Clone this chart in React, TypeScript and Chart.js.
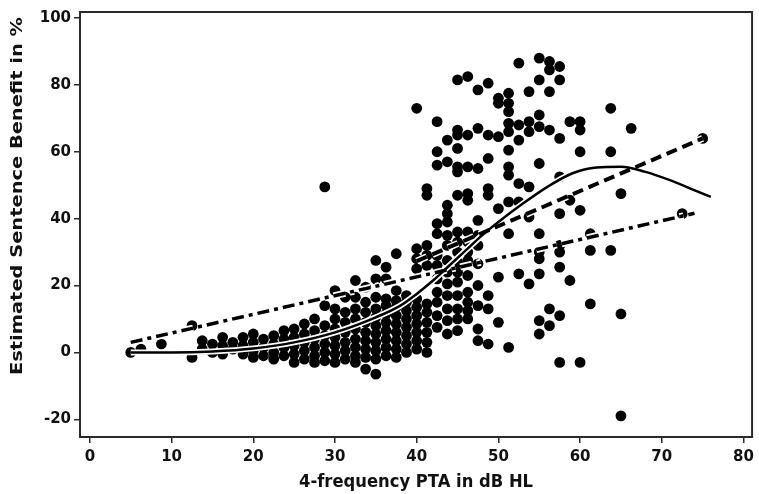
import React, { useEffect, useRef } from "react";
import { Chart, registerables } from "chart.js";

Chart.register(...registerables);

const xTickValues = [0, 10, 20, 30, 40, 50, 60, 70, 80];
const yTickValues = [-20, 0, 20, 40, 60, 80, 100];
const xTitle = "4-frequency PTA in dB HL";
const yTitle = "Estimated Sentence Benefit in %";

// observed (PTA, benefit) pairs
const observations: [number, number][] = [
  [5, 0], [6.25, 1], [8.75, 2.5], [12.5, -1.5], [12.5, 8],
  [13.75, 1], [13.75, 3.5], [15, 0], [15, 2.5],
  [16.25, -0.5], [16.25, 2], [16.25, 4.5], [17.5, 1], [17.5, 3],
  [18.75, -0.5], [18.75, 2], [18.75, 4.5],
  [20, -1.5], [20, 0.5], [20, 3], [20, 5.5],
  [21.25, -1], [21.25, 1.5], [21.25, 4],
  [22.5, -2], [22.5, 0], [22.5, 2.5], [22.5, 5],
  [23.75, -1], [23.75, 1.5], [23.75, 4], [23.75, 6.5],
  [25, -3], [25, -0.5], [25, 2], [25, 4.5], [25, 7],
  [26.25, -2], [26.25, 0.5], [26.25, 3], [26.25, 5.5], [26.25, 8.5],
  [27.5, -3], [27.5, -1], [27.5, 1.5], [27.5, 4], [27.5, 6.5], [27.5, 10],
  [28.75, -2.5], [28.75, 0], [28.75, 2.5], [28.75, 5], [28.75, 8], [28.75, 14], [28.75, 49.5],
  [30, -3], [30, -0.5], [30, 2], [30, 4.5], [30, 7], [30, 10], [30, 13], [30, 18.5],
  [31.25, -2], [31.25, 0.5], [31.25, 3], [31.25, 6], [31.25, 9], [31.25, 12], [31.25, 16.5],
  [32.5, -3], [32.5, -1], [32.5, 1.5], [32.5, 4], [32.5, 7], [32.5, 10], [32.5, 13], [32.5, 16.5], [32.5, 21.5],
  [33.75, -5], [33.75, -1.5], [33.75, 1], [33.75, 3.5], [33.75, 6], [33.75, 9], [33.75, 12], [33.75, 15], [33.75, 19.5],
  [35, -6.5], [35, -2], [35, 0.5], [35, 3], [35, 5.5], [35, 8], [35, 10.5], [35, 13], [35, 16.5], [35, 22], [35, 27.5],
  [36.25, -1], [36.25, 1.5], [36.25, 4], [36.25, 6.5], [36.25, 9], [36.25, 11.5], [36.25, 14], [36.25, 16], [36.25, 22], [36.25, 25.5],
  [37.5, -1.5], [37.5, 1], [37.5, 3.5], [37.5, 6], [37.5, 8.5], [37.5, 11], [37.5, 13.5], [37.5, 15.5], [37.5, 18.5], [37.5, 29.5],
  [38.75, 0], [38.75, 2.5], [38.75, 5], [38.75, 7.5], [38.75, 10], [38.75, 12.5], [38.75, 15], [38.75, 17],
  [40, 1], [40, 3.5], [40, 6], [40, 8.5], [40, 11], [40, 13.5], [40, 16], [40, 25], [40, 28], [40, 31], [40, 73],
  [41.25, 0], [41.25, 3], [41.25, 6], [41.25, 9], [41.25, 12], [41.25, 14.5], [41.25, 26], [41.25, 29], [41.25, 32], [41.25, 47], [41.25, 49],
  [42.5, 7.5], [42.5, 11], [42.5, 15], [42.5, 18], [42.5, 22], [42.5, 26], [42.5, 29], [42.5, 35.5], [42.5, 38.5], [42.5, 56], [42.5, 60], [42.5, 69],
  [43.75, 5.5], [43.75, 9.5], [43.75, 13], [43.75, 17], [43.75, 20.5], [43.75, 24], [43.75, 27.5], [43.75, 32], [43.75, 35], [43.75, 39], [43.75, 41.5], [43.75, 44], [43.75, 57], [43.75, 63.5],
  [45, 6.5], [45, 10], [45, 13], [45, 17], [45, 21], [45, 24], [45, 27], [45, 30], [45, 33], [45, 36], [45, 47], [45, 54], [45, 55.5], [45, 61], [45, 65], [45, 66.5], [45, 81.5],
  [46.25, 10], [46.25, 12.5], [46.25, 15], [46.25, 18], [46.25, 23], [46.25, 27.5], [46.25, 30], [46.25, 33], [46.25, 36], [46.25, 45.5], [46.25, 47.5], [46.25, 55.5], [46.25, 65], [46.25, 82.5],
  [47.5, 3.5], [47.5, 7], [47.5, 14], [47.5, 20], [47.5, 26.5], [47.5, 32], [47.5, 35], [47.5, 39.5], [47.5, 55], [47.5, 67], [47.5, 78.5],
  [48.75, 2.5], [48.75, 13], [48.75, 17], [48.75, 47], [48.75, 49], [48.75, 58], [48.75, 65], [48.75, 80.5],
  [50, 9], [50, 22.5], [50, 43], [50, 64.5], [50, 74.5], [50, 76],
  [51.25, 1.5], [51.25, 35.5], [51.25, 45], [51.25, 53], [51.25, 55.5], [51.25, 60.5], [51.25, 66], [51.25, 68.5], [51.25, 72], [51.25, 74.5], [51.25, 77.5],
  [52.5, 23.5], [52.5, 45], [52.5, 50.5], [52.5, 63.5], [52.5, 68], [52.5, 86.5],
  [53.75, 20.5], [53.75, 40.5], [53.75, 49.5], [53.75, 66], [53.75, 69], [53.75, 78],
  [55, 5.5], [55, 9.5], [55, 23.5], [55, 28], [55, 30], [55, 35.5], [55, 56.5], [55, 67.5], [55, 71], [55, 81.5], [55, 88],
  [56.25, 8], [56.25, 13], [56.25, 66.5], [56.25, 78], [56.25, 84.5], [56.25, 87],
  [57.5, -3], [57.5, 11], [57.5, 25.5], [57.5, 30], [57.5, 32], [57.5, 41.5], [57.5, 52.5], [57.5, 64], [57.5, 81.5], [57.5, 85.5],
  [58.75, 21.5], [58.75, 45.5], [58.75, 69],
  [60, -3], [60, 42.5], [60, 60], [60, 66.5], [60, 69],
  [61.25, 14.5], [61.25, 30.5], [61.25, 35.5],
  [63.75, 30.5], [63.75, 60], [63.75, 73],
  [65, -19], [65, 11.5], [65, 47.5],
  [66.25, 67],
  [72.5, 41.5],
  [75, 64],
];

// smooth (loess-like) fit, solid
const loessFit: [number, number][] = [
  [5, 0], [10, 0], [15, 0.3], [20, 1.2], [25, 3], [30, 6], [35, 10.5], [38, 14],
  [40, 17.5], [42, 21.5], [44, 26], [46, 30.5], [48, 35], [50, 39], [53, 44.5],
  [56, 49.5], [59, 53.5], [62, 55.3], [65, 55.5], [68, 54], [71, 51.5], [73.5, 49], [76, 46.5],
];

// steep linear fit over the upper PTA range, dashed
const steepFit: [number, number][] = [[40, 27.3], [75, 64]];

// linear fit over the full range, dash-dot
const linearFit: [number, number][] = [[5, 3], [74, 41.6]];

const toXY = (arr: [number, number][]) => arr.map(([x, y]) => ({ x, y }));

const TEXT = "#111";
const FONT = "'DejaVu Sans', Verdana, sans-serif";

const framePlugin = {
  id: "framePlugin",
  afterDatasetsDraw(chart: any) {
    const { ctx, chartArea: a } = chart;
    ctx.save();
    ctx.strokeStyle = "#2a2a2a";
    ctx.lineWidth = 2;
    ctx.strokeRect(a.left, a.top, a.right - a.left, a.bottom - a.top);
    ctx.restore();
  },
  afterDraw(chart: any) {
    const { ctx, chartArea: a } = chart;
    ctx.save();
    ctx.fillStyle = TEXT;
    ctx.textAlign = "center";
    ctx.textBaseline = "middle";
    // x title
    ctx.font = `bold 16px ${FONT}`;
    const wx = ctx.measureText(xTitle).width;
    ctx.save();
    ctx.translate((a.left + a.right) / 2, 482);
    ctx.scale(234 / wx, 1.1);
    ctx.fillText(xTitle, 0, 0);
    ctx.restore();
    // y title
    ctx.font = `bold 16px ${FONT}`;
    const wy = ctx.measureText(yTitle).width;
    ctx.save();
    ctx.translate(18, 196);
    ctx.rotate(-Math.PI / 2);
    ctx.scale(358 / wy, 1);
    ctx.fillText(yTitle, 0, 0);
    ctx.restore();
    ctx.restore();
  },
};

export default function App() {
  const ref = useRef<HTMLCanvasElement | null>(null);

  useEffect(() => {
    if (!ref.current) return;
    const lineCommon = {
      showLine: true,
      pointRadius: 0,
      pointHoverRadius: 0,
      fill: false,
    };
    const chart = new Chart(ref.current, {
      type: "scatter",
      data: {
        datasets: [
          {
            label: "observations",
            data: toXY(observations),
            pointRadius: 5.4,
            pointBackgroundColor: "#000",
            pointBorderWidth: 0,
            order: 10,
          } as any,
          {
            ...lineCommon,
            label: "loess halo",
            data: toXY(loessFit),
            borderColor: "#fff",
            borderWidth: 6,
            cubicInterpolationMode: "monotone",
            order: 6,
          },
          {
            ...lineCommon,
            label: "steep halo",
            data: toXY(steepFit),
            borderColor: "#fff",
            borderWidth: 7,
            borderDash: [11, 6],
            order: 6,
          },
          {
            ...lineCommon,
            label: "linear halo",
            data: toXY(linearFit),
            borderColor: "#fff",
            borderWidth: 7,
            borderDash: [12, 5, 4, 5],
            order: 6,
          },
          {
            ...lineCommon,
            label: "loess",
            data: toXY(loessFit),
            borderColor: "#000",
            borderWidth: 2.5,
            cubicInterpolationMode: "monotone",
            order: 1,
          },
          {
            ...lineCommon,
            label: "steep",
            data: toXY(steepFit),
            borderColor: "#000",
            borderWidth: 4,
            borderDash: [11, 6],
            order: 1,
          },
          {
            ...lineCommon,
            label: "linear",
            data: toXY(linearFit),
            borderColor: "#000",
            borderWidth: 3.5,
            borderDash: [12, 5, 4, 5],
            order: 1,
          },
        ],
      },
      options: {
        responsive: false,
        animation: false,
        devicePixelRatio: 1,
        layout: { padding: { top: 9, right: 1, left: 0, bottom: 0 } },
        plugins: {
          legend: { display: false },
          tooltip: { enabled: false },
          title: { display: false },
        },
        scales: {
          x: {
            type: "linear",
            min: -1.21,
            max: 81.05,
            afterBuildTicks: (s: any) => {
              s.ticks = xTickValues.map((v) => ({ value: v }));
            },
            afterFit: (s: any) => {
              s.height = 57;
            },
            grid: {
              drawOnChartArea: false,
              drawTicks: true,
              tickLength: 6,
              color: "#2a2a2a",
              lineWidth: 1.5,
            },
            border: { display: false },
            ticks: {
              color: TEXT,
              font: { family: FONT, size: 15, weight: "bold" },
              padding: 5,
              maxRotation: 0,
              autoSkip: false,
            },
          },
          y: {
            type: "linear",
            min: -25.3,
            max: 101.8,
            afterBuildTicks: (s: any) => {
              s.ticks = yTickValues.map((v) => ({ value: v }));
            },
            afterFit: (s: any) => {
              s.width = 80;
            },
            grid: {
              drawOnChartArea: false,
              drawTicks: true,
              tickLength: 6,
              color: "#2a2a2a",
              lineWidth: 1.5,
            },
            border: { display: false },
            ticks: {
              color: TEXT,
              font: { family: FONT, size: 15, weight: "bold" },
              padding: 3,
              autoSkip: false,
            },
          },
        },
      } as any,
      plugins: [framePlugin],
    });
    return () => chart.destroy();
  }, []);

  return (
    <div style={{ position: "fixed", left: 0, top: 0, width: 759, height: 494, background: "#fff" }}>
      <canvas ref={ref} width={759} height={494} style={{ width: 759, height: 494 }} />
    </div>
  );
}
